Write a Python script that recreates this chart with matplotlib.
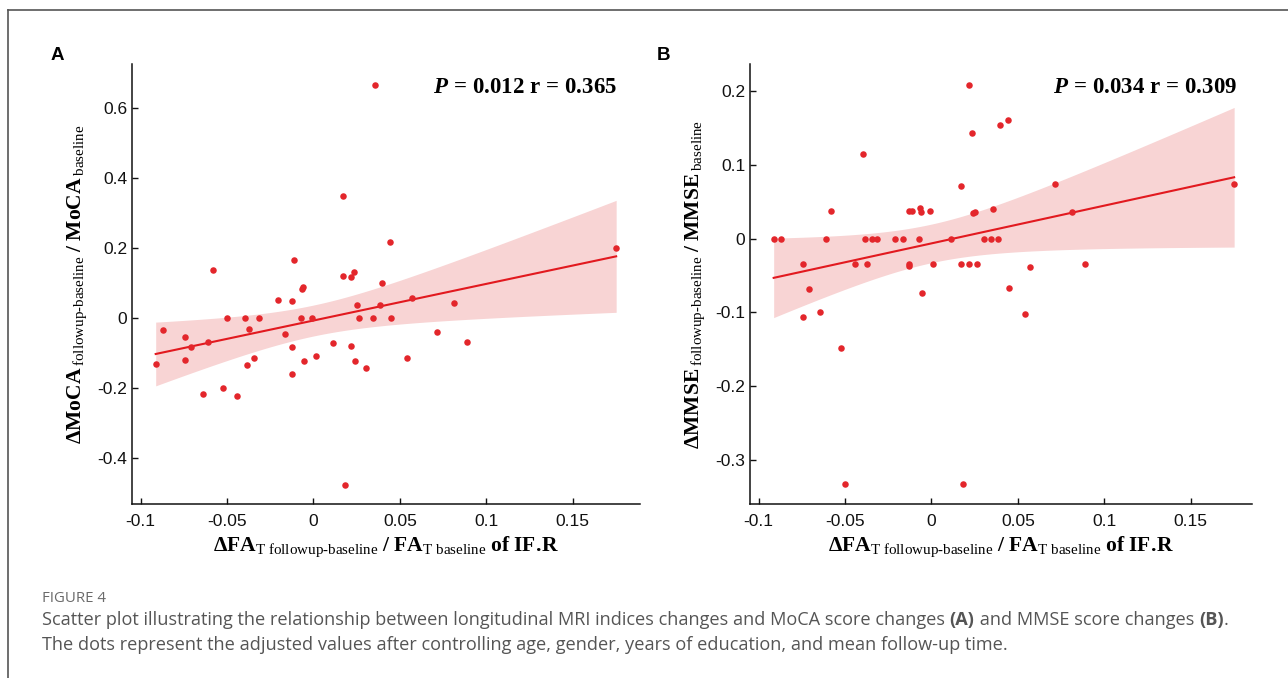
import numpy as np
import matplotlib
matplotlib.use("Agg")
import matplotlib.pyplot as plt
from matplotlib.lines import Line2D

# values (same subjects in both panels)
fa_change = [-0.0913, -0.0873, -0.0745, -0.0743, -0.0708, -0.0608, -0.0583, -0.0642,
             -0.0526, -0.0502, -0.0441, -0.0396, -0.0387, -0.0373, -0.0344, -0.0316,
             -0.0208, -0.0163, -0.0127, -0.0127, -0.0127, -0.0111, -0.0071, -0.0066,
             -0.0059, -0.0052, -0.0009, 0.0012, 0.0113, 0.0170, 0.0170, 0.0184,
             0.0217, 0.0219, 0.0236, 0.0238, 0.0252, 0.0264, 0.0304, 0.0342,
             0.0356, 0.0387, 0.0394, 0.0443, 0.0450, 0.0540, 0.0571, 0.0715,
             0.0816, 0.0889, 0.1752]

moca_change = [-0.133, -0.035, -0.054, -0.119, -0.082, -0.068, 0.137, -0.217,
               -0.199, 0.0, -0.222, 0.0, -0.135, -0.033, -0.114, 0.0,
               0.050, -0.047, 0.048, -0.083, -0.160, 0.167, 0.0, 0.082,
               0.088, -0.124, 0.0, -0.110, -0.071, 0.350, 0.120, -0.477,
               -0.080, 0.117, 0.131, -0.124, 0.037, 0.0, -0.142, 0.0,
               0.667, 0.038, 0.101, 0.218, 0.0, -0.114, 0.057, -0.039,
               0.044, -0.068, 0.201]

mmse_change = [0.0, 0.0, -0.034, -0.107, -0.069, 0.0, 0.037, -0.100,
               -0.148, -0.333, -0.034, 0.115, 0.0, -0.034, 0.0, 0.0,
               0.0, 0.0, 0.037, -0.035, -0.037, 0.037, 0.0, 0.0415,
               0.0355, -0.074, 0.037, -0.034, 0.0, 0.071, -0.034, -0.333,
               0.208, -0.035, 0.143, 0.0345, 0.0355, -0.0345, 0.0, 0.0,
               0.040, 0.0, 0.154, 0.160, -0.067, -0.103, -0.038, 0.074,
               0.036, -0.034, 0.074]

stats_a = "0.012", "0.365"
stats_b = "0.034", "0.309"
x_ticks = [-0.1, -0.05, 0, 0.05, 0.1, 0.15]
x_tick_labels = ["-0.1", "-0.05", "0", "0.05", "0.1", "0.15"]
a_ticks = [-0.4, -0.2, 0, 0.2, 0.4, 0.6]
a_tick_labels = ["-0.4", "-0.2", "0", "0.2", "0.4", "0.6"]
b_ticks = [-0.3, -0.2, -0.1, 0, 0.1, 0.2]
b_tick_labels = ["-0.3", "-0.2", "-0.1", "0", "0.1", "0.2"]

plt.rcParams['font.family'] = ['Liberation Sans', 'DejaVu Sans']
plt.rcParams['mathtext.fontset'] = 'custom'
plt.rcParams['mathtext.rm'] = 'Liberation Serif'
plt.rcParams['mathtext.it'] = 'Liberation Serif:italic'
plt.rcParams['mathtext.bf'] = 'Liberation Serif:bold'
plt.rcParams['mathtext.bfit'] = 'Liberation Serif:bold:italic'

DOT = '#e3262b'
LINE = '#e2191f'
BAND = '#f8d4d4'

x_label = (r'$\mathbf{\Delta FA}_{\text{T followup-baseline}}\ '
           r'\mathbf{/\ FA}_{\text{T baseline}}\ \mathbf{of\ IF.\!R}$')
a_label = (r'$\mathbf{\Delta MoCA}\,{}_{\text{followup-baseline}}\ '
           r'\mathbf{/\ MoCA}\,{}_{\text{baseline}}$')
b_label = (r'$\mathbf{\Delta MMSE}\,{}_{\text{followup-baseline}}\ '
           r'\mathbf{/\ MMSE}\,{}_{\text{baseline}}$')


def draw_panel(ax, x, y, stats, ylabel, yticks, ytick_labels, xlim, ylim, text_x):
    x = np.asarray(x)
    y = np.asarray(y)

    # ordinary least squares fit with 95% confidence band
    n = len(x)
    slope, intercept = np.polyfit(x, y, 1)
    resid = y - (slope * x + intercept)
    s = np.sqrt(np.sum(resid ** 2) / (n - 2))
    xs = np.linspace(x.min(), x.max(), 200)
    se = s * np.sqrt(1.0 / n + (xs - x.mean()) ** 2 / np.sum((x - x.mean()) ** 2))
    t = 2.0096  # t(0.975, 49)
    fit = slope * xs + intercept

    ax.fill_between(xs, fit - t * se, fit + t * se, color=BAND, lw=0, zorder=1)
    ax.plot(xs, fit, color=LINE, lw=1.5, zorder=2)
    ax.scatter(x, y, s=22, color=DOT, lw=0, zorder=3)

    ax.set_xlim(*xlim)
    ax.set_ylim(*ylim)
    ax.set_xticks(x_ticks)
    ax.set_xticklabels(x_tick_labels)
    ax.set_yticks(yticks)
    ax.set_yticklabels(ytick_labels)
    ax.tick_params(direction='in', length=4, width=1, labelsize=12.5, colors='#111111')
    ax.tick_params(axis='x', pad=7)
    for side in ('top', 'right'):
        ax.spines[side].set_visible(False)
    for side in ('left', 'bottom'):
        ax.spines[side].set_linewidth(1.1)
        ax.spines[side].set_color('#111111')

    ax.set_xlabel(x_label, fontsize=15.5, labelpad=4)
    ax.set_ylabel(ylabel, fontsize=15.5, labelpad=6)

    p, r = stats
    ax.text(text_x, 0.948, r'$\mathbfit{P}\mathbf{\,=\,%s\ r\,=\,%s}$' % (p, r),
            transform=ax.transAxes, ha='right', va='center', fontsize=16.5)


fig = plt.figure(figsize=(12.88, 6.78), dpi=100)

ax_a = fig.add_axes([0.1025, 0.2566, 0.3944, 0.649])
ax_b = fig.add_axes([0.5823, 0.2566, 0.3897, 0.649])

draw_panel(ax_a, fa_change, moca_change, stats_a, a_label, a_ticks, a_tick_labels,
           (-0.105, 0.189), (-0.532, 0.726), 0.955)
draw_panel(ax_b, fa_change, mmse_change, stats_b, b_label, b_ticks, b_tick_labels,
           (-0.105, 0.1855), (-0.36, 0.2366), 0.970)

fig.text(57 / 1288, 1 - 55 / 678, 'A', fontsize=13.5, fontweight='bold',
         ha='center', va='center')
fig.text(664 / 1288, 1 - 55 / 678, 'B', fontsize=13.5, fontweight='bold',
         ha='center', va='center')

# frame lines of the figure box (left and top only)
fig.add_artist(Line2D([8 / 1288, 8 / 1288], [0, 1 - 10 / 678], transform=fig.transFigure,
                      color='#555555', lw=1.2))
fig.add_artist(Line2D([8 / 1288, 1], [1 - 10 / 678, 1 - 10 / 678], transform=fig.transFigure,
                      color='#555555', lw=1.2))

# caption
cap_font = ['Open Sans', 'DejaVu Sans']
cap_x = 42 / 1288
fig.text(cap_x, 1 - 598 / 678, 'FIGURE 4', fontsize=10.8, color='#6a6a6a',
         family=cap_font, va='center')

fig.canvas.draw()
renderer = fig.canvas.get_renderer()


def caption_line(pieces, y):
    x = cap_x
    for txt, bold in pieces:
        t = fig.text(x, y, txt, fontsize=13.1, color='#555555', family=cap_font,
                     fontweight='bold' if bold else 'normal', va='center')
        bb = t.get_window_extent(renderer=renderer)
        x += bb.width / fig.bbox.width


caption_line([
    ('Scatter plot illustrating the relationship between longitudinal MRI indices changes '
     'and MoCA score changes ', False),
    ('(A)', True),
    (' and MMSE score changes ', False),
    ('(B)', True),
    ('.', False),
], 1 - 620 / 678)
caption_line([
    ('The dots represent the adjusted values after controlling age, gender, years of '
     'education, and mean follow-up time.', False),
], 1 - 645 / 678)

fig.savefig('out.png', dpi=100)
